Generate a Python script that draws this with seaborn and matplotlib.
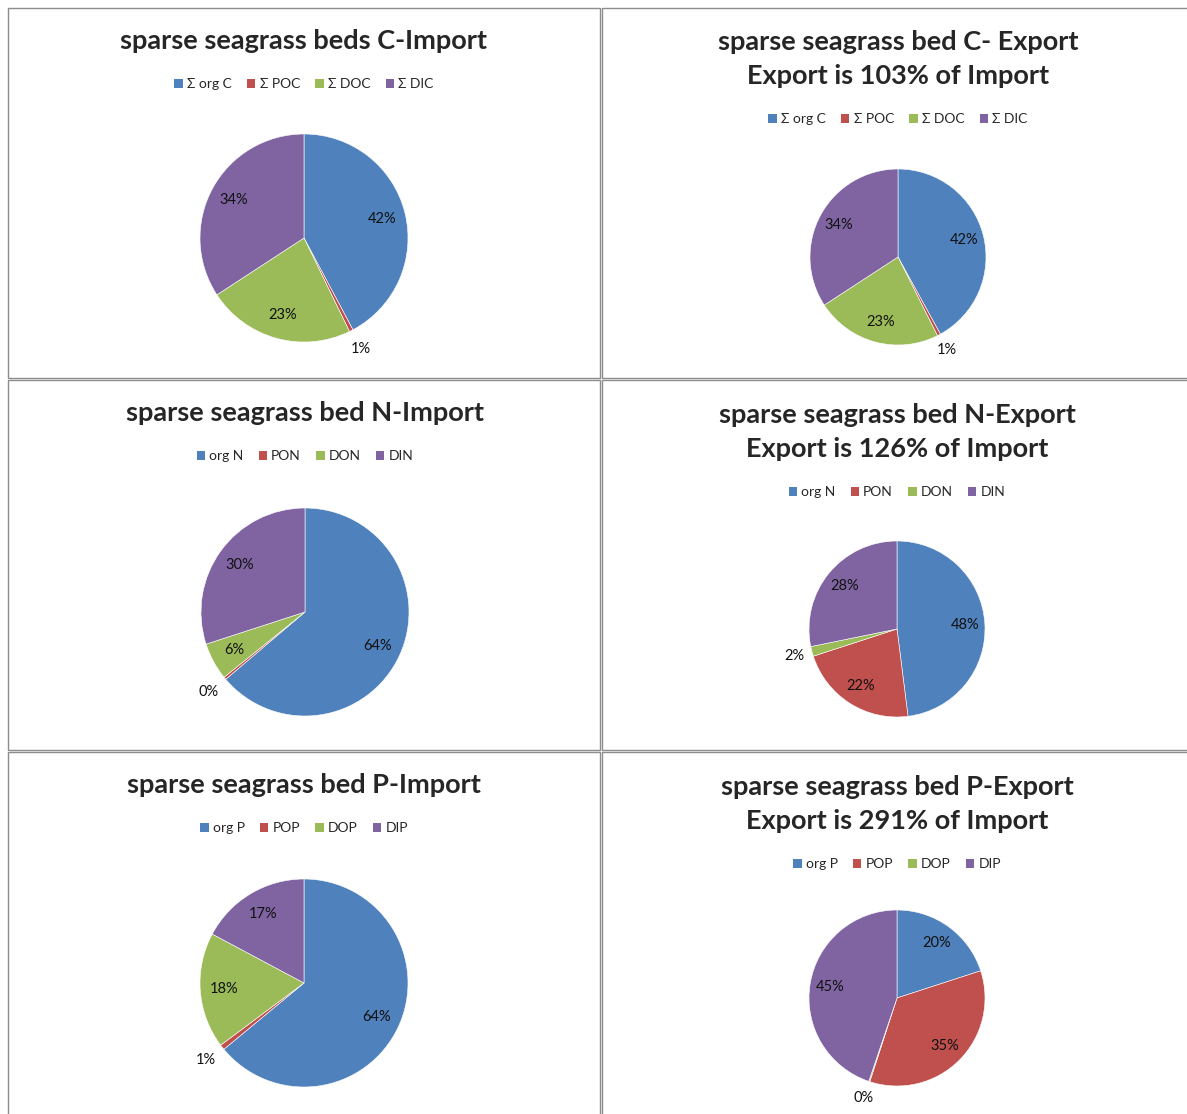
import numpy as np
import matplotlib
matplotlib.use('Agg')
import matplotlib.pyplot as plt
import seaborn as sns
from matplotlib.patches import Rectangle, Patch

# chart data (percent of total)
c_labels = ['Σ org C', 'Σ POC', 'Σ DOC', 'Σ DIC']
c_import = [42.2, 0.6, 23.0, 34.2]
c_export = [42.0, 0.6, 23.2, 34.2]

n_labels = ['org N', 'PON', 'DON', 'DIN']
n_import = [63.8, 0.4, 5.8, 30.0]
n_export = [48.0, 22.0, 1.8, 28.2]

p_labels = ['org P', 'POP', 'DOP', 'DIP']
p_import = [64.0, 0.8, 18.0, 17.2]
p_export = [20.0, 35.0, 0.2, 44.8]

titles = [
    'sparse seagrass beds C-Import',
    'sparse seagrass bed C- Export\nExport is 103% of Import',
    'sparse seagrass bed N-Import',
    'sparse seagrass bed N-Export\nExport is 126% of Import',
    'sparse seagrass bed P-Import',
    'sparse seagrass bed P-Export\nExport is 291% of Import',
]

sns.set_theme(style='white')
plt.rcParams['font.family'] = ['Lato', 'DejaVu Sans']
colors = sns.color_palette(['#4F81BD', '#C0504D', '#9BBB59', '#8064A2'])

W, H = 1187, 1114
fig = plt.figure(figsize=(W / 100, H / 100), dpi=100)
fig.patch.set_facecolor('white')

# (values, labels, title, cell box in px (x0, y0, x1, y1), pie centre, radius, title y, legend y)
panels = [
    (c_import, c_labels, titles[0], (8, 8, 600, 378), (304, 238), 104, 41, 84),
    (c_export, c_labels, titles[1], (602, 8, 1190, 378), (898, 257), 88, 59, 119),
    (n_import, n_labels, titles[2], (8, 380, 600, 750), (305, 612), 104, 413, 456),
    (n_export, n_labels, titles[3], (602, 380, 1190, 750), (897, 629), 88, 432, 492),
    (p_import, p_labels, titles[4], (8, 752, 600, 1118), (304, 983), 104, 785, 828),
    (p_export, p_labels, titles[5], (602, 752, 1190, 1118), (897, 998), 88, 804, 864),
]

for vals, labs, title, box, centre, r, ty, ly in panels:
    x0, y0, x1, y1 = box
    fig.patches.append(Rectangle((x0 / W, 1 - y1 / H), (x1 - x0) / W, (y1 - y0) / H,
                                 transform=fig.transFigure, fill=False,
                                 edgecolor='#8c8c8c', linewidth=1.0))
    cx, cy = centre
    ax = fig.add_axes([(cx - r) / W, 1 - (cy + r) / H, 2 * r / W, 2 * r / H])
    wedges, _ = ax.pie(vals, colors=colors, startangle=90, counterclock=False,
                       radius=1, wedgeprops={'edgecolor': 'white', 'linewidth': 0.4})
    total = sum(vals)
    for wedge, v in zip(wedges, vals):
        pct = 100 * v / total
        angle = np.deg2rad((wedge.theta1 + wedge.theta2) / 2)
        dist = 1.2 if pct < 3 else 0.77
        ax.text(dist * np.cos(angle), dist * np.sin(angle), f'{pct:.0f}%',
                ha='center', va='center', fontsize=10.5, color='#111111')
    ax.set_xlim(-1, 1)
    ax.set_ylim(-1, 1)
    ax.set_aspect('equal')
    ax.axis('off')

    fig.text(cx / W, 1 - ty / H, title, ha='center', va='center',
             fontsize=19.5, fontweight='bold', linespacing=1.5)
    handles = [Patch(facecolor=c, edgecolor='none') for c in colors]
    fig.legend(handles, labs, loc='center', bbox_to_anchor=(cx / W, 1 - ly / H),
               ncol=4, frameon=False, fontsize=10, handlelength=0.6, handleheight=0.6,
               handletextpad=0.3, columnspacing=1.1)

plt.savefig('out.png', dpi=100)
